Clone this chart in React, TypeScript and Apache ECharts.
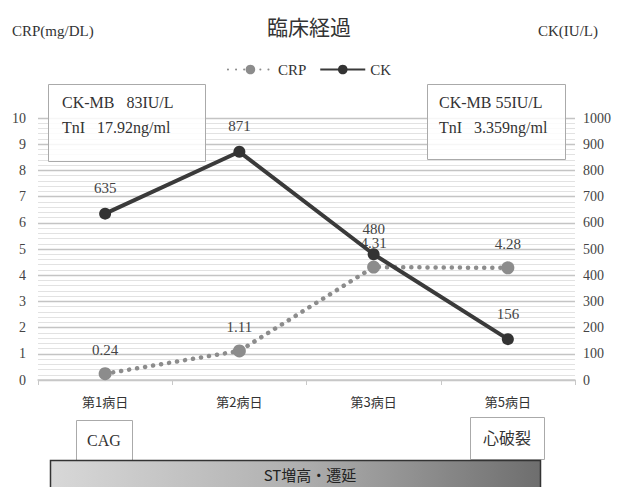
import React, { useEffect, useRef } from "react";
import * as echarts from "echarts";

const categories = ["第1病日", "第2病日", "第3病日", "第5病日"];
const crpValues = [0.24, 1.11, 4.31, 4.28];
const ckValues = [635, 871, 480, 156];
const leftTicks = { min: 0, max: 10, interval: 1 };
const rightTicks = { min: 0, max: 1000, interval: 100 };

const SERIF = "Liberation Serif, DejaVu Serif, serif";
const CJK = "Noto Sans CJK JP, sans-serif";
const NB = "\u00A0";

export default function App() {
  const ref = useRef<HTMLDivElement>(null);
  useEffect(() => {
    if (!ref.current) return;
    const chart = echarts.init(ref.current, undefined, { renderer: "svg" });
    const axisLabel = { color: "#444", fontSize: 14, fontFamily: SERIF };
    chart.setOption({
      animation: false,
      backgroundColor: "#fff",
      title: {
        text: "臨床経過",
        left: "center",
        top: 10,
        textStyle: { fontFamily: CJK, fontSize: 21, fontWeight: "normal", color: "#333" },
      },
      legend: {
        top: 57,
        left: "center",
        itemWidth: 45,
        itemHeight: 12,
        itemGap: 13,
        textStyle: { fontFamily: SERIF, fontSize: 15, color: "#333" },
        data: ["CRP", "CK"],
      },
      grid: { left: 38, right: 43, top: 118, bottom: 107 },
      xAxis: {
        type: "category",
        data: categories,
        boundaryGap: true,
        axisLine: { lineStyle: { color: "#c8c8c8", width: 1.5 } },
        axisTick: { show: true, lineStyle: { color: "#c8c8c8" }, length: 5 },
        axisLabel: { ...axisLabel, fontFamily: CJK, fontSize: 13, margin: 15, color: "#333" },
      },
      yAxis: [
        {
          type: "value",
          ...leftTicks,
          position: "left",
          axisLine: { show: false },
          axisTick: { show: false },
          axisLabel: { ...axisLabel, margin: 12 },
          splitLine: { show: true, lineStyle: { color: "#c4c4c4", width: 1.3 } },
          minorTick: { show: false, splitNumber: 5 },
          minorSplitLine: { show: true, lineStyle: { color: "#e2e2e2", width: 1 } },
        },
        {
          type: "value",
          ...rightTicks,
          position: "right",
          axisLine: { show: false },
          axisTick: { show: false },
          axisLabel: { ...axisLabel, margin: 8, align: "left", formatter: (v: number) => String(v) },
          splitLine: { show: false },
        },
      ],
      series: [
        {
          name: "CRP",
          type: "line",
          yAxisIndex: 0,
          data: crpValues,
          symbol: "circle",
          symbolSize: 13,
          itemStyle: { color: "#8c8c8c" },
          lineStyle: { color: "#8c8c8c", width: 4.5, type: [0.1, 8], cap: "round" },
          label: {
            show: true,
            position: "top",
            distance: 10,
            color: "#444",
            fontSize: 15,
            fontFamily: SERIF,
          },
          z: 2,
        },
        {
          name: "CK",
          type: "line",
          yAxisIndex: 1,
          data: ckValues,
          symbol: "circle",
          symbolSize: 12,
          itemStyle: { color: "#333" },
          lineStyle: { color: "#3a3a3a", width: 4 },
          label: {
            show: true,
            position: "top",
            distance: 12,
            color: "#444",
            fontSize: 15,
            fontFamily: SERIF,
          },
          z: 3,
        },
      ],
      graphic: [
        { type: "text", left: 12, top: 23, style: { text: "CRP(mg/DL)", fontFamily: SERIF, fontSize: 15, fill: "#333" } },
        { type: "text", right: 20, top: 23, style: { text: "CK(IU/L)", fontFamily: SERIF, fontSize: 15, fill: "#333" } },
        {
          type: "rect",
          shape: { x: 48.5, y: 84.5, width: 157, height: 77 },
          style: { fill: "rgba(255,255,255,0.85)", stroke: "#aaa", lineWidth: 1 },
          z: 10,
        },
        { type: "text", x: 62, y: 102, z: 11, style: { text: `CK-MB${NB}${NB}${NB}83IU/L`, fontFamily: SERIF, fontSize: 16, fill: "#333", verticalAlign: "middle" } },
        { type: "text", x: 62, y: 127, z: 11, style: { text: `TnI${NB}${NB}${NB}17.92ng/ml`, fontFamily: SERIF, fontSize: 16, fill: "#333", verticalAlign: "middle" } },
        {
          type: "rect",
          shape: { x: 427.5, y: 84.5, width: 138, height: 75 },
          style: { fill: "rgba(255,255,255,0.85)", stroke: "#aaa", lineWidth: 1 },
          z: 10,
        },
        { type: "text", x: 439, y: 102, z: 11, style: { text: "CK-MB 55IU/L", fontFamily: SERIF, fontSize: 16, fill: "#333", verticalAlign: "middle" } },
        { type: "text", x: 439, y: 127, z: 11, style: { text: `TnI${NB}${NB}${NB}3.359ng/ml`, fontFamily: SERIF, fontSize: 16, fill: "#333", verticalAlign: "middle" } },
        {
          type: "rect",
          shape: { x: 76.5, y: 420.5, width: 56, height: 40 },
          style: { fill: "#fff", stroke: "#aaa", lineWidth: 1 },
        },
        { type: "text", x: 104, y: 440, style: { text: "CAG", fontFamily: SERIF, fontSize: 16, fill: "#333", align: "center", verticalAlign: "middle" } },
        {
          type: "rect",
          shape: { x: 470.5, y: 417.5, width: 74, height: 42 },
          style: { fill: "#fff", stroke: "#aaa", lineWidth: 1 },
        },
        { type: "text", x: 507, y: 437, style: { text: "心破裂", fontFamily: CJK, fontSize: 16, fill: "#333", align: "center", verticalAlign: "middle" } },
        {
          type: "rect",
          shape: { x: 50.5, y: 460.5, width: 490, height: 30 },
          style: {
            fill: new echarts.graphic.LinearGradient(0, 0, 1, 0, [
              { offset: 0, color: "#d8d8d8" },
              { offset: 0.5, color: "#b0b0b0" },
              { offset: 1, color: "#6e6e6e" },
            ]),
            stroke: "#333",
            lineWidth: 1.5,
          },
        },
        { type: "text", x: 310, y: 474, style: { text: "ST増高・遷延", fontFamily: CJK, fontSize: 15, fill: "#222", align: "center", verticalAlign: "middle" } },
      ],
    });
    return () => chart.dispose();
  }, []);
  return <div ref={ref} style={{ width: 618, height: 487, position: "absolute", left: 0, top: 0 }} />;
}
